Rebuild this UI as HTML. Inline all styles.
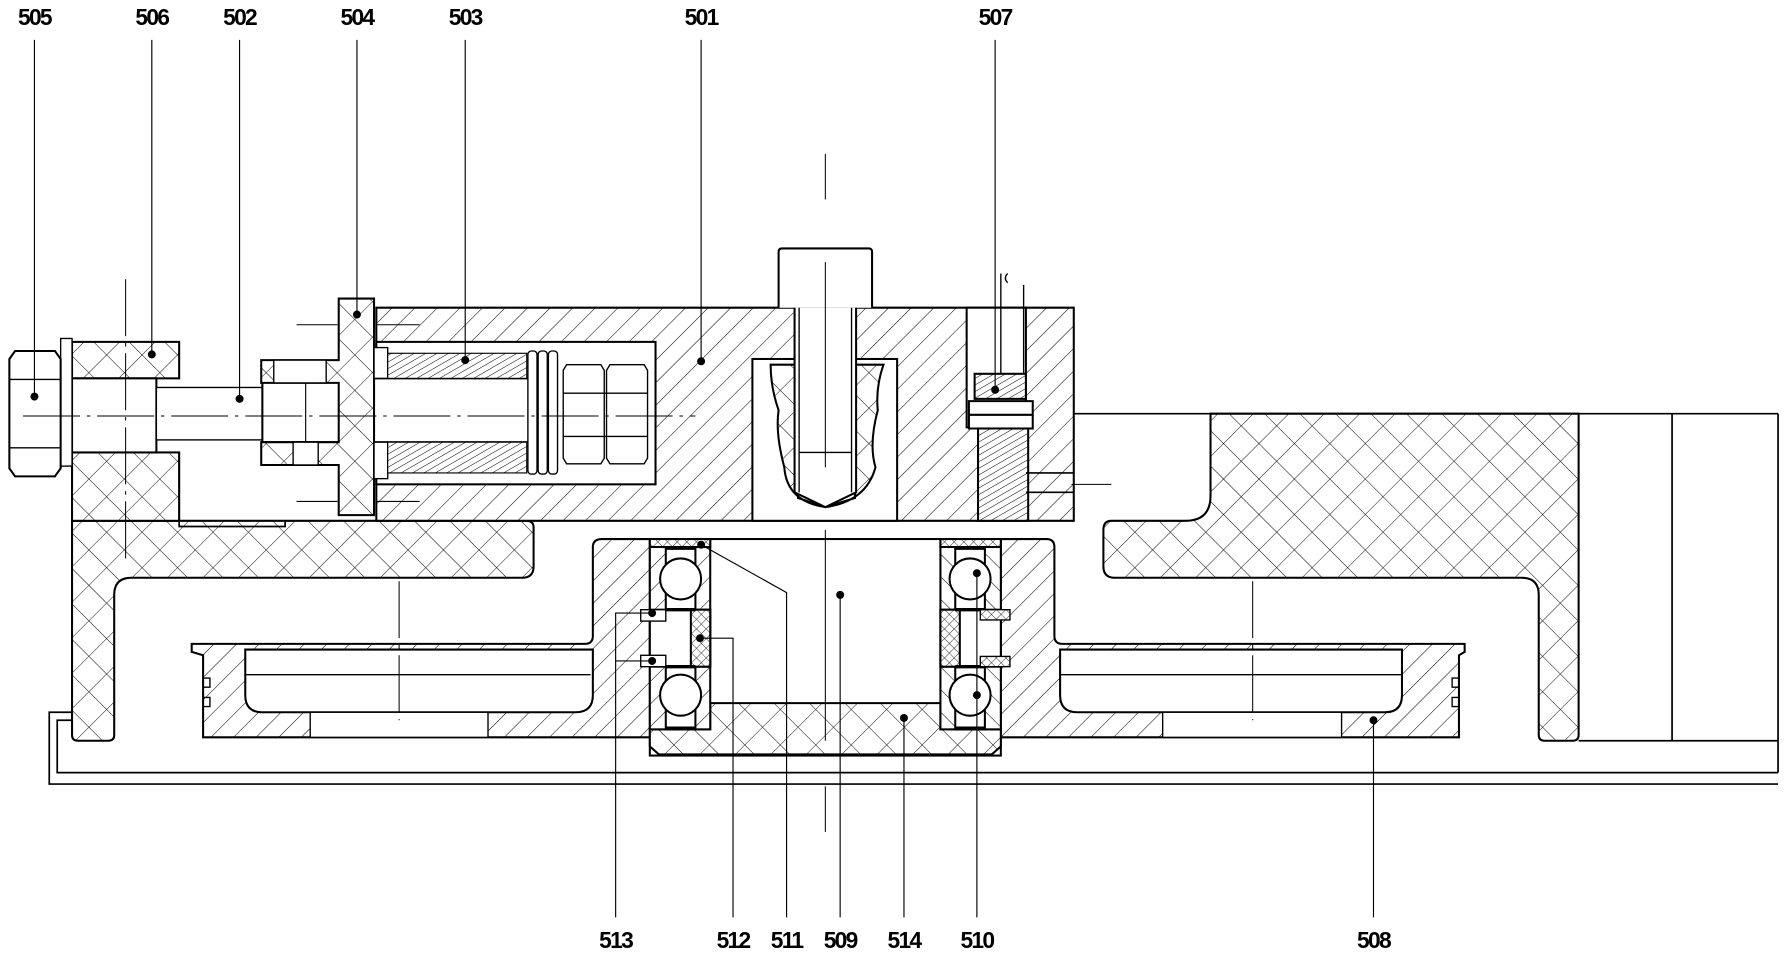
<!DOCTYPE html>
<html><head><meta charset="utf-8"><style>
html,body{margin:0;padding:0;background:#fff}
svg{display:block}
text{font-family:"Liberation Sans",sans-serif;font-size:20px;font-weight:bold;fill:#000;text-anchor:middle;letter-spacing:-1.5px}
</style></head><body>
<svg width="1784" height="955" viewBox="0 0 1565 838" xmlns="http://www.w3.org/2000/svg">
<defs>
<pattern id="h" width="14" height="14" patternUnits="userSpaceOnUse" patternTransform="rotate(45)">
<rect width="14" height="14" fill="#fff"/><line x1="0" y1="0" x2="0" y2="14" stroke="#000" stroke-width="0.9"/></pattern>
<pattern id="hs" width="5" height="5" patternUnits="userSpaceOnUse" patternTransform="rotate(60)">
<rect width="5" height="5" fill="#fff"/><line x1="0" y1="0" x2="0" y2="5" stroke="#000" stroke-width="0.9"/></pattern>
<pattern id="x" width="22" height="22" patternUnits="userSpaceOnUse" patternTransform="rotate(45)">
<rect width="22" height="22" fill="#fff"/><line x1="0" y1="0" x2="0" y2="22" stroke="#000" stroke-width="0.8"/><line x1="0" y1="0" x2="22" y2="0" stroke="#000" stroke-width="0.8"/></pattern>
<pattern id="xs" width="6" height="6" patternUnits="userSpaceOnUse" patternTransform="rotate(45)">
<rect width="6" height="6" fill="#fff"/><line x1="0" y1="0" x2="0" y2="6" stroke="#000" stroke-width="0.7"/><line x1="0" y1="0" x2="6" y2="0" stroke="#000" stroke-width="0.7"/></pattern>
</defs>
<g stroke="#000" stroke-width="1.8" fill="none">
<path d="M63 625 H43 V688 H1560" stroke-width="1.5"/>
<path d="M63 632 H50 V678 H1560" stroke-width="1.5"/>
<path d="M942 363 H1560 M1560 363 V678" stroke-width="1.5"/>
<line x1="1467" y1="363" x2="1467" y2="650" stroke-width="1.5"/>
<line x1="1385" y1="650" x2="1560" y2="650" stroke-width="1.5"/>
<path fill="url(#x)" d="M63 457 H462 Q468 457 468 463 V497 Q468 507 458 507 H115 Q100 507 100 522 V645 Q100 650 95 650 H68 Q63 650 63 645 Z"/>
<path fill="url(#x)" d="M975 457 H1040 Q1062 457 1062 435 V363 H1385 V645 Q1385 650 1380 650 H1355 Q1350 650 1350 645 V522 Q1350 507 1335 507 H978 Q968 507 968 497 V465 Q968 457 975 457 Z"/>
<path fill="url(#h)" d="M168 565 H513 Q520 565 520 558 V480 Q520 473 528 473 H918 Q925 473 925 480 V558 Q925 565 932 565 H1285 V572 L1280 575 V647 H178 V575 L168 572 Z"/>
<path fill="#fff" d="M215 570 H520 V610 Q520 625 505 625 H230 Q215 625 215 610 Z"/>
<path d="M215 592 H518" stroke-width="1.2"/>
<path fill="#fff" d="M930 570 H1230 V610 Q1230 625 1215 625 H945 Q930 625 930 610 Z"/>
<path d="M930 592 H1230" stroke-width="1.2"/>
<rect x="272" y="625" width="156" height="22" fill="#fff" stroke-width="1.2"/>
<rect x="1020" y="625" width="157" height="22" fill="#fff" stroke-width="1.2"/>
<path d="M178 595 h6 v8 h-6 M178 612 h6 v8 h-6 M1280 595 h-6 v8 h6 M1280 612 h-6 v8 h6" stroke-width="1.2"/>
<rect x="570" y="473" width="308" height="190" fill="#fff"/>
<path fill="url(#x)" d="M570 640 H623 V617 H825 V640 H878 V655 L870 662 H578 L570 655 Z"/>
<g id="brg">
<rect x="570" y="473" width="53" height="167" fill="url(#h)"/>
<rect x="570" y="473" width="53" height="7" fill="url(#xs)"/>
<rect x="584" y="480" width="26" height="55" fill="#fff"/>
<rect x="584" y="585" width="26" height="55" fill="#fff"/>
<circle cx="597" cy="508" r="18" fill="#fff"/>
<circle cx="597" cy="610" r="18" fill="#fff"/>
<rect x="570" y="535" width="53" height="50" fill="#fff"/>
<rect x="606" y="535" width="17" height="50" fill="url(#xs)"/>
<path d="M584 481 h26 M584 535 h26 M584 585 h26 M584 639 h26" stroke-width="3"/>
</g>
<rect x="562" y="535" width="22" height="10" fill="#fff" stroke-width="1.2"/>
<rect x="562" y="575" width="22" height="10" fill="#fff" stroke-width="1.2"/>
<use href="#brg" transform="translate(1448 0) scale(-1 1)"/>
<rect x="860" y="535" width="26" height="9" fill="url(#xs)" stroke-width="1.2"/>
<rect x="860" y="576" width="26" height="9" fill="url(#xs)" stroke-width="1.2"/>
<path fill="url(#h)" d="M330 270 H942 V457 H330 Z"/>
<rect x="330" y="300" width="245" height="125" fill="#fff"/>
<rect x="660" y="315" width="127" height="142" fill="#fff"/>
<path fill="url(#x)" d="M676 320 H700 V437 L724 445 L750 437 V320 H775 Q768 340 770 360 Q762 390 768 410 Q760 440 724 445 Q690 440 688 410 Q680 380 683 360 Q676 340 676 320 Z"/>
<rect x="848" y="270" width="52" height="105" fill="#fff"/>
<path fill="#fff" d="M683 270 V221 Q683 218 686 218 H762 Q765 218 765 221 V270"/>
<path fill="#fff" d="M697 270 V432 L724 445 L751 432 V270" />
<path d="M701 270 V432 M747 270 V432 M701 397 H747 M697 315 H660 M751 315 H787" stroke-width="1.2"/>
<path d="M878 240 V328 M898 250 V328 M884 240 Q880 244 884 248" stroke-width="1.2"/>
<rect x="855" y="328" width="45" height="22" fill="url(#hs)"/>
<path fill="#fff" d="M850 352 h56 v12 h-56z M850 364 h56 v12 h-56z"/>
<rect x="858" y="376" width="44" height="81" fill="url(#hs)"/>
<path d="M900 415 H942 M900 432 H942" stroke-width="1.5"/>
<rect x="63" y="300" width="94" height="32" fill="url(#x)"/>
<rect x="63" y="397" width="94" height="60" fill="url(#x)"/>
<rect x="63" y="332" width="74" height="65" fill="#fff"/>
<path d="M157 397 V462 H250 V457" stroke-width="1.5"/>
<rect x="53" y="297" width="10" height="112" fill="#fff" stroke-width="1.2"/>
<path fill="#fff" d="M13 308 H48 L53 315 V411 L48 418 H13 L8 411 V315 Z"/>
<path d="M8 333 H53 M8 393 H53" stroke-width="1.2"/>
<rect x="137" y="340" width="93" height="46" fill="#fff" stroke-width="1.2"/>
<rect x="230" y="332" width="240" height="56" fill="#fff"/>
<line x1="268" y1="332" x2="268" y2="388" stroke-width="1"/>
<path fill="url(#x)" d="M297 262 H328 V452 H297 V408 H229 V388 H297 V336 H229 V316 H297 Z"/>
<rect x="240" y="316" width="46" height="20" fill="#fff" stroke-width="1.2"/>
<rect x="257" y="388" width="22" height="20" fill="#fff" stroke-width="1.2"/>
<rect x="328" y="305" width="12" height="27" fill="#fff" stroke-width="1.2"/>
<rect x="328" y="388" width="12" height="32" fill="#fff" stroke-width="1.2"/>
<rect x="340" y="310" width="122" height="22" fill="url(#hs)" stroke-width="1"/>
<rect x="340" y="388" width="122" height="27" fill="url(#hs)" stroke-width="1"/>
<rect x="463" y="308" width="8" height="108" rx="3" fill="#fff" stroke-width="1.2"/>
<rect x="472" y="308" width="8" height="108" rx="3" fill="#fff" stroke-width="1.2"/>
<rect x="481" y="308" width="8" height="108" rx="3" fill="#fff" stroke-width="1.2"/>
<path fill="#fff" stroke-width="1.2" d="M497 320 H527 L530 325 V402 L527 407 H497 L494 402 V325 Z M535 320 H565 L568 325 V402 L565 407 H535 L532 402 V325 Z"/>
<path d="M494 345 H568 M494 383 H568" stroke-width="1.2"/>
</g>
<g stroke="#000" stroke-width="0.9" fill="none">
<line x1="724" y1="135" x2="724" y2="175"/><line x1="724" y1="230" x2="724" y2="410"/>
<line x1="724" y1="465" x2="724" y2="650"/><line x1="724" y1="690" x2="724" y2="730"/>
<line x1="20" y1="365" x2="610" y2="365" stroke-dasharray="50 6 3 6"/>
<line x1="110" y1="245" x2="110" y2="492" stroke-dasharray="50 6 3 6"/>
<line x1="260" y1="285" x2="296" y2="285"/><line x1="330" y1="285" x2="368" y2="285"/>
<line x1="260" y1="440" x2="296" y2="440"/><line x1="330" y1="440" x2="368" y2="440"/>
<line x1="350" y1="510" x2="350" y2="632" stroke-dasharray="50 6 3 6"/>
<line x1="1099" y1="510" x2="1099" y2="632" stroke-dasharray="50 6 3 6"/>
<line x1="940" y1="425" x2="975" y2="425"/>
</g>
<g stroke="#000" stroke-width="1" fill="none">
<path d="M30 35 V348 M133 35 V311 M210 35 V350 M313 35 V276 M408 35 V316 M615 35 V317 M873 35 V342"/>
<path d="M540 805 V538 H572 M540 580 H572 M643 805 V560 H614 M690 805 V520 L615 478 M737 805 V522 M793 805 V630 M857 805 V503 M1205 805 V632"/>
</g>
<g fill="#000">
<circle cx="30" cy="348" r="3.5"/><circle cx="133" cy="311" r="3.5"/><circle cx="210" cy="350" r="3.5"/><circle cx="313" cy="276" r="3.5"/><circle cx="408" cy="316" r="3.5"/><circle cx="615" cy="317" r="3.5"/><circle cx="873" cy="342" r="3.5"/>
<circle cx="572" cy="538" r="3.5"/><circle cx="572" cy="580" r="3.5"/><circle cx="614" cy="560" r="3.5"/><circle cx="615" cy="478" r="3.5"/><circle cx="737" cy="522" r="3.5"/><circle cx="793" cy="630" r="3.5"/><circle cx="857" cy="503" r="3.5"/><circle cx="857" cy="610" r="3.5"/><circle cx="1205" cy="632" r="3.5"/>
</g>
<text x="30" y="22">505</text><text x="133" y="22">506</text><text x="210" y="22">502</text><text x="313" y="22">504</text><text x="408" y="22">503</text><text x="615" y="22">501</text><text x="873" y="22">507</text>
<text x="540" y="832">513</text><text x="643" y="832">512</text><text x="690" y="832">511</text><text x="737" y="832">509</text><text x="793" y="832">514</text><text x="857" y="832">510</text><text x="1205" y="832">508</text>
</svg>
</body></html>
